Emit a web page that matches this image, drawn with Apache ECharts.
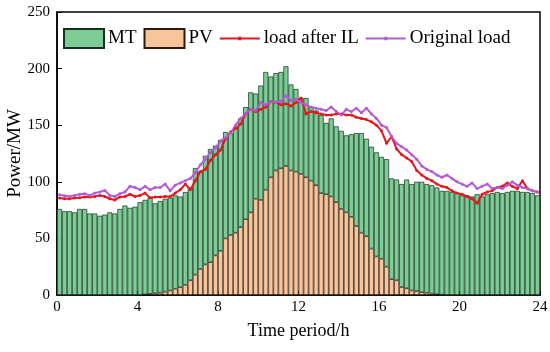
<!DOCTYPE html>
<html>
<head>
<meta charset="utf-8">
<script src="https://cdn.jsdelivr.net/npm/echarts@6/dist/echarts.min.js"></script>
<style>
html,body{margin:0;padding:0;background:#fff;}
#chart{width:550px;height:352px;}
</style>
</head>
<body>
<div id="chart"></div>
<script>
// 96 quarter-hour periods
var periods = [];
for (var i = 0; i < 96; i++) { periods.push(String(i + 1)); }

var xTickLabels = [0, 4, 8, 12, 16, 20, 24];
var yTickLabels = [0, 50, 100, 150, 200, 250];

var pvOutput = [
  0,0,0,0,0,0,0,0,0,0,0,0,0,0,0,0,0,0.5,1,1.5,2,3,4,5.5,
  7,9,13,18,23,27,29,35,39,50,53,55,60,67,73,85,84,93,104,110,112,114,110,109,
  107,104,101,97,90,89,87,82,76,73,69,61,55,52,41,34,32,25,14,13,7,6,4,3.5,
  2.5,2,1.2,0.6,0.3,0,0,0,0,0,0,0,0,0,0,0,0,0,0,0,0,0,0,0
];

var mtOutput = [
  76,74,74,73,76,76,72,72,70,71,73,72,76,79,77,78,82,83.5,85,79.5,81,82,82,82.5,
  80,82,82,94,86,96,100,97,98,94,90,93,96,99,106,93,101,104,89,86,85,88,76,73,
  67,70,65,66,69,63,69,67,69,68,73,82,88,86,90,92,90,95,89,89,91,96,94,96.5,
  97.5,96,95.8,94.4,91.7,92,91,90,88,88,87,89,87,89,90,91,90,91,92,92,91,91,90,88
];

var loadAfterIL = [
  85.7,85,85,85.7,86,86.6,86.6,87,88,87,85,84,86.6,87,89,87,88,90,86,86.6,86.6,87,87,90,
  93,98,93,101,109,111,119,124,128,138,144,147,151,160,164,162,164,166,171,170,168,169,167,170,
  174,160,162,161,160,159,159,160,160,159,159,157,156,155,153,150,145,134,140,129,124,121,118,110,
  106,103,101,98,96,95,92,90,89,87,85,81,89,91,92,95,96,99,96,94,101,94,92,91
];

var originalLoad = [
  88.6,87.7,87,88,89,89.5,88,90,91,92.4,88,87,89.5,91,96,95,93,96,93,95,95,98,92,97,
  99,101,103,108,115,120,126,130,136,139,143,150,156,160,164,163,170,168,171,170,171,176,172,173,
  170,168,166,165,164,163,166,162,159,164,162,165,161,165,160,156,150,148,140,134,131,128,124,120,
  114,111,109,106,104,106,103,100,98,96,99,94,96,98,94,95,94,97,100,97,95,94,92,91
];

var FONT = '"Liberation Serif", "Times New Roman", serif';
var LINE_ICON = 'path://M0,4 L40,4 L40,6 L0,6 Z M18.5,3.2 L21.5,3.2 L21.5,6.8 L18.5,6.8 Z';
var chart = echarts.init(document.getElementById('chart'), null, {renderer: 'canvas'});

chart.setOption({
  animation: false,
  backgroundColor: '#ffffff',
  textStyle: {fontFamily: FONT, color: '#000'},
  grid: {
    left: 57, right: 10, top: 12, bottom: 57,
    outerBoundsMode: 'none', containLabel: false,
    show: true, borderColor: '#000', borderWidth: 1.5, backgroundColor: 'transparent'
  },
  legend: {
    top: 28, left: 63, padding: 0,
    itemWidth: 40, itemHeight: 19, itemGap: 7,
    textStyle: {fontFamily: FONT, fontSize: 19, color: '#000', padding: [0,0,0,-1]},
    data: [
      {name: 'MT', icon: 'rect'},
      {name: 'PV', icon: 'rect'},
      {name: 'load after IL', icon: LINE_ICON, itemStyle: {color: '#e8161c', borderWidth: 0}},
      {name: 'Original load', icon: LINE_ICON, itemStyle: {color: '#b45ad8', borderWidth: 0}}
    ]
  },
  xAxis: [
    {
      type: 'category', data: periods, boundaryGap: true, show: false
    },
    {
      type: 'value', min: 0, max: 24, interval: 4, position: 'bottom',
      name: 'Time period/h', nameLocation: 'middle', nameGap: 27, nameMoveOverlap: false,
      nameTextStyle: {fontFamily: FONT, fontSize: 18, color: '#000'},
      axisLine: {show: true, lineStyle: {color: '#000', width: 1.5}},
      axisTick: {show: true, inside: true, length: 4, lineStyle: {color: '#000'}},
      axisLabel: {fontFamily: FONT, fontSize: 15, color: '#000', margin: 5,
        formatter: function (v) { return xTickLabels.indexOf(v) >= 0 ? String(v) : ''; }},
      splitLine: {show: false}
    }
  ],
  yAxis: {
    type: 'value', min: 0, max: 250, interval: 50,
    name: 'Power/MW', nameLocation: 'middle', nameGap: 32, nameRotate: 90, nameMoveOverlap: false,
    nameTextStyle: {fontFamily: FONT, fontSize: 19, color: '#000'},
    axisLine: {show: true, lineStyle: {color: '#000', width: 1.5}},
    axisTick: {show: true, inside: true, length: 5, lineStyle: {color: '#000'}},
    axisLabel: {fontFamily: FONT, fontSize: 15, color: '#000', margin: 7,
      formatter: function (v) { return yTickLabels.indexOf(v) >= 0 ? String(v) : ''; }},
    splitLine: {show: false}
  },
  series: [
    {
      name: 'PV', type: 'bar', stack: 'gen', xAxisIndex: 0, data: pvOutput,
      barCategoryGap: '0%', barWidth: '100%',
      itemStyle: {color: '#f8c59a', borderColor: '#2a1a10', borderWidth: 0.7}
    },
    {
      name: 'MT', type: 'bar', stack: 'gen', xAxisIndex: 0, data: mtOutput,
      barCategoryGap: '0%', barWidth: '100%',
      itemStyle: {color: '#7ccd95', borderColor: '#15301c', borderWidth: 0.7}
    },
    {
      name: 'load after IL', type: 'line', xAxisIndex: 0, data: loadAfterIL,
      symbol: 'circle', symbolSize: 3, showSymbol: true,
      lineStyle: {color: '#e8161c', width: 2},
      itemStyle: {color: '#e8161c'}
    },
    {
      name: 'Original load', type: 'line', xAxisIndex: 0, data: originalLoad,
      symbol: 'circle', symbolSize: 3, showSymbol: true,
      lineStyle: {color: '#b45ad8', width: 2},
      itemStyle: {color: '#b45ad8'}
    }
  ]
});
</script>
</body>
</html>
